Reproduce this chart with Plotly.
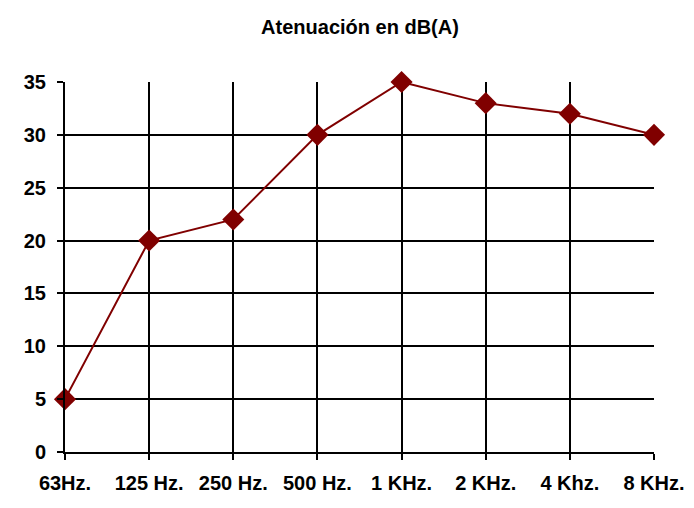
import plotly.graph_objects as go

categories = ["63Hz.", "125 Hz.", "250 Hz.", "500 Hz.", "1 KHz.", "2 KHz.", "4 Khz.", "8 KHz."]
values = [5, 20, 22, 30, 35, 33, 32, 30]
y_ticks = [0, 5, 10, 15, 20, 25, 30, 35]

fig = go.Figure()
fig.add_trace(go.Scatter(
    x=list(range(len(categories))), y=values, mode="lines+markers",
    line=dict(color="#800000", width=2),
    marker=dict(symbol="diamond", size=17, color="#800000"),
    cliponaxis=False,
))

font = dict(family="Liberation Sans, Arial, sans-serif", size=20, color="black")

# page body has an 8px margin, so the figure is sized to fit the 694x508 window
W, H = 686, 500
fig.update_layout(
    width=W, height=H,
    paper_bgcolor="white", plot_bgcolor="white",
    margin=dict(l=57, r=40, t=74, b=56, autoexpand=False),
    showlegend=False,
    title=dict(text="<b>Atenuación en dB(A)</b>", x=352 / W, xref="container", xanchor="center",
               y=1 - 19 / H, yref="container", yanchor="middle",
               font=dict(family="Liberation Sans, Arial, sans-serif", size=20, color="black")),
    font=font,
)
fig.update_xaxes(
    range=[0, len(categories) - 1], tickmode="array",
    tickvals=list(range(len(categories))), ticktext=[f"<b>{c}</b>" for c in categories],
    showgrid=True, gridcolor="black", gridwidth=2,
    showline=True, linecolor="black", linewidth=2,
    ticks="outside", ticklen=6, tickwidth=2, tickcolor="black",
    zeroline=False, tickfont=font, automargin=False, ticklabelstandoff=6,
)
fig.update_yaxes(
    range=[0, 35], tickmode="array", tickvals=y_ticks,
    ticktext=[f"<b>{v}</b>" for v in y_ticks],
    showgrid=True, gridcolor="black", gridwidth=2,
    showline=True, linecolor="black", linewidth=2,
    ticks="outside", ticklen=6, tickwidth=2, tickcolor="black",
    zeroline=False, tickfont=font, automargin=False, ticklabelstandoff=7,
)

fig.write_html("out.html")
